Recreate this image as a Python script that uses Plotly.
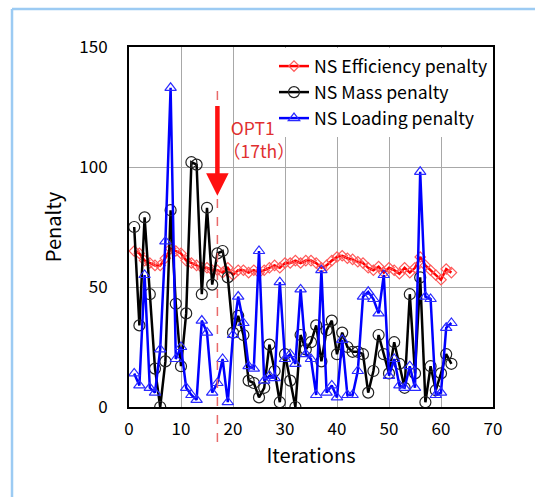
import plotly.graph_objects as go

iterations = list(range(1, 63))

efficiency = [65, 64, 61, 60, 59, 59, 62, 66, 65, 64,
              61, 60, 59, 58, 58, 57, 57, 56, 58, 55,
              57, 57, 56, 57, 56, 57, 58, 59, 58, 60,
              60, 61, 60, 61, 61, 60, 58, 59, 61, 62.5,
              63, 62, 61.5, 60.5, 60, 58, 57, 58.5, 56, 58,
              57, 55.5, 58, 56, 58, 62.5, 59, 57, 55, 53,
              57.5, 56]

mass = [75, 34, 79, 47, 16, 0, 19, 82, 43, 17,
        39, 102, 101, 47, 83, 51, 64, 65, 54, 31,
        38, 30, 11, 10, 4, 8, 26, 15, 2, 22,
        11, 0, 30, 24, 27, 34, 19, 32, 36, 22,
        31, 25, 23, 23, 22, 6, 15, 30, 22, 14,
        27, 18, 8, 47, 14, 54, 2, 17, 7, 14,
        22, 18]

loading = [14, 9, 55, 8, 6, 24, 69, 133, 20, 25,
           8, 5, 3, 36, 31, 6, 10, 20, 2, 30,
           46, 35, 17, 16, 65, 11, 13, 12, 52, 20,
           22, 18, 49, 22, 20, 5, 57, 6, 9, 4,
           28, 5, 5, 15, 46, 48, 45, 39, 55, 13,
           20, 9, 8, 17, 8, 98, 46, 45, 5, 6,
           33, 35]

x_ticks = [0, 10, 20, 30, 40, 50, 60, 70]
y_ticks = [0, 50, 100, 150]
opt_iter = 17

FONT = "Noto Sans CJK JP"

fig = go.Figure()
fig.add_trace(go.Scatter(
    x=iterations, y=efficiency, name="NS Efficiency penalty",
    mode="lines+markers",
    line=dict(color="#ff0000", width=2.5),
    marker=dict(symbol="diamond-open", size=8, color="#ff5a5a", line=dict(width=1.2)),
))
fig.add_trace(go.Scatter(
    x=iterations, y=mass, name="NS Mass penalty",
    mode="lines+markers",
    line=dict(color="#000000", width=2.5),
    marker=dict(symbol="circle-open", size=11, color="#222222", line=dict(width=1.2)),
))
fig.add_trace(go.Scatter(
    x=iterations, y=loading, name="NS Loading penalty",
    mode="lines+markers",
    line=dict(color="#0000ff", width=2.5),
    marker=dict(symbol="triangle-up-open", size=10, color="#2a2aff", line=dict(width=1.2)),
))

# dashed OPT1 line
fig.add_shape(type="line", xref="x", yref="paper", x0=opt_iter, x1=opt_iter,
              y0=-0.097, y1=0.88, line=dict(color="#e86a6a", width=1.5, dash="dash"))

# arrow
fig.add_annotation(x=opt_iter, y=88, ax=opt_iter, ay=126, xref="x", yref="y",
                   axref="x", ayref="y", showarrow=True, arrowhead=2, arrowsize=1.0,
                   arrowwidth=4.5, arrowcolor="#ff1010", text="")
fig.add_annotation(x=17.7, y=111.5, xref="x", yref="y", text="  OPT1<br>（17th）",
                   showarrow=False, xanchor="left", yanchor="middle", align="left",
                   font=dict(family=FONT, size=17.5, color="#e03030"))

# outer light-blue frame
fig.add_shape(type="line", xref="paper", yref="paper", x0=-0.3214, x1=1.2,
              y0=1.1056, y1=1.1056, line=dict(color="#9ccbf3", width=2.5))
fig.add_shape(type="line", xref="paper", yref="paper", x0=-0.3214, x1=-0.3214,
              y0=1.1056, y1=-0.3, line=dict(color="#9ccbf3", width=2.5))

fig.update_layout(
    width=535, height=497,
    margin=dict(l=129, r=42, t=47, b=90),
    paper_bgcolor="white", plot_bgcolor="white",
    font=dict(family=FONT, size=17, color="black"),
    showlegend=True,
    legend=dict(x=1.0, y=0.997, xanchor="right", yanchor="top",
                bgcolor="white", borderwidth=0,
                font=dict(family=FONT, size=17.7, color="black"),
                tracegroupgap=0, itemwidth=30),
)
fig.update_xaxes(range=[0, 70], tickvals=x_ticks, showgrid=True, gridcolor="#a8a8a8",
                 gridwidth=1, showline=True, linecolor="black", linewidth=2, mirror=True,
                 zeroline=False, ticks="", ticklabelstandoff=6,
                 title=dict(text="Iterations", standoff=10,
                            font=dict(family=FONT, size=20)))
fig.update_yaxes(range=[0, 150], tickvals=y_ticks, showgrid=True, gridcolor="#a8a8a8",
                 gridwidth=1, showline=True, linecolor="black", linewidth=2, mirror=True,
                 zeroline=False, ticks="", ticklabelstandoff=16,
                 title=dict(text="Penalty", standoff=12,
                            font=dict(family=FONT, size=20)))

fig.write_html("out.html")
